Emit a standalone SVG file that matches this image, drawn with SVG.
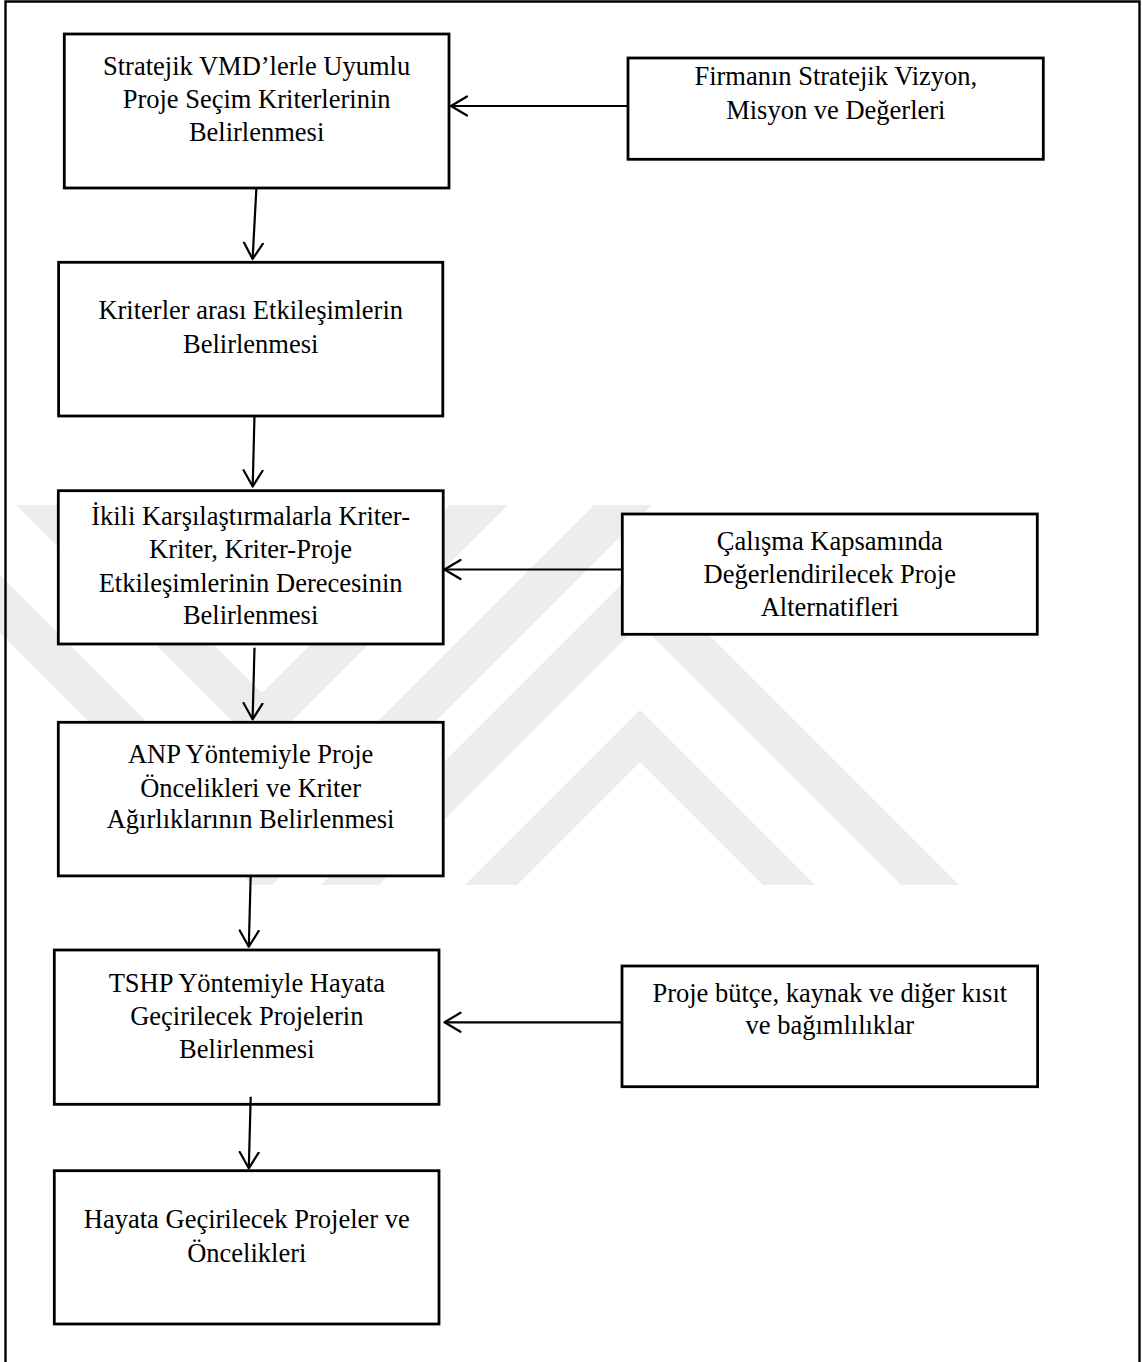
<svg xmlns="http://www.w3.org/2000/svg" width="1142" height="1362" viewBox="0 0 1142 1362">
  <style>
    .box { fill: #ffffff; stroke: #000000; stroke-width: 2.8; }
    .lbl { font-family: "Liberation Serif", "Times New Roman", serif; font-size: 26.5px; fill: #000000; text-anchor: middle; }
    .conn { stroke: #000000; stroke-width: 2.2; fill: none; marker-end: url(#arr); }
    .wm { fill: #ededed; }
    .frame { stroke: #000000; stroke-width: 2.4; fill: none; }
  </style>
  <defs>
    <marker id="arr" markerUnits="userSpaceOnUse" markerWidth="22" markerHeight="24" refX="17" refY="11" orient="auto">
      <path d="M1,1.5 L17,11 L1,20.5" fill="none" stroke="#000000" stroke-width="2.2" stroke-linecap="round" stroke-linejoin="round"/>
    </marker>
    <clipPath id="wmclip">
      <rect x="0" y="505" width="1142" height="380"/>
    </clipPath>
  </defs>
  <rect x="0" y="0" width="1142" height="1362" fill="#ffffff"/>

  <g id="watermark" clip-path="url(#wmclip)">
    <polygon class="wm" points="-89,400 262,751 613,400 555,400 262,693 -31,400"/>
    <polygon class="wm" points="-233,400 262,895 757,400 699,400 262,837 -175,400"/>
    <polygon class="wm" points="306,900 640,566 974,900 916,900 640,624 364,900"/>
    <polygon class="wm" points="450,900 640,710 830,900 778,900 640,762 502,900"/>
  </g>

  <path id="frame" class="frame" d="M5.5,1370 V1.5 H1139.5 V1370"/>

  <g id="node-vmd">
    <rect class="box" x="64.3" y="34" width="384.7" height="154"/>
    <text class="lbl" x="256.6" y="75">Stratejik VMD’lerle Uyumlu</text>
    <text class="lbl" x="256.6" y="108">Proje Seçim Kriterlerinin</text>
    <text class="lbl" x="256.6" y="141">Belirlenmesi</text>
  </g>

  <g id="node-firma">
    <rect class="box" x="628" y="58" width="415.3" height="101.3"/>
    <text class="lbl" x="835.8" y="85">Firmanın Stratejik Vizyon,</text>
    <text class="lbl" x="835.8" y="119.3">Misyon ve Değerleri</text>
  </g>

  <g id="node-etkilesim">
    <rect class="box" x="58.6" y="262.3" width="384.2" height="153.7"/>
    <text class="lbl" x="250.7" y="319.3">Kriterler arası Etkileşimlerin</text>
    <text class="lbl" x="250.7" y="353.3">Belirlenmesi</text>
  </g>

  <g id="node-ikili">
    <rect class="box" x="58.3" y="490.7" width="384.9" height="153.3"/>
    <text class="lbl" x="250.6" y="525">İkili Karşılaştırmalarla Kriter-</text>
    <text class="lbl" x="250.6" y="558.3">Kriter, Kriter-Proje</text>
    <text class="lbl" x="250.6" y="591.7">Etkileşimlerinin Derecesinin</text>
    <text class="lbl" x="250.6" y="624">Belirlenmesi</text>
  </g>

  <g id="node-alternatif">
    <rect class="box" x="622.3" y="514" width="415" height="120.3"/>
    <text class="lbl" x="829.8" y="550">Çalışma Kapsamında</text>
    <text class="lbl" x="829.8" y="582.7">Değerlendirilecek Proje</text>
    <text class="lbl" x="829.8" y="616">Alternatifleri</text>
  </g>

  <g id="node-anp">
    <rect class="box" x="58.3" y="722.3" width="384.9" height="153.6"/>
    <text class="lbl" x="250.6" y="763.3">ANP Yöntemiyle Proje</text>
    <text class="lbl" x="250.6" y="796.7">Öncelikleri ve Kriter</text>
    <text class="lbl" x="250.6" y="828.3">Ağırlıklarının Belirlenmesi</text>
  </g>

  <g id="node-tshp">
    <rect class="box" x="54.3" y="950" width="384.7" height="154.3"/>
    <text class="lbl" x="246.8" y="991.7">TSHP Yöntemiyle Hayata</text>
    <text class="lbl" x="246.8" y="1025">Geçirilecek Projelerin</text>
    <text class="lbl" x="246.8" y="1058.3">Belirlenmesi</text>
  </g>

  <g id="node-kisit">
    <rect class="box" x="622" y="966" width="415.6" height="120.7"/>
    <text class="lbl" x="829.8" y="1001.7">Proje bütçe, kaynak ve diğer kısıt</text>
    <text class="lbl" x="829.8" y="1034.3">ve bağımlılıklar</text>
  </g>

  <g id="node-sonuc">
    <rect class="box" x="54.3" y="1170.7" width="384.7" height="153.3"/>
    <text class="lbl" x="246.8" y="1227.7">Hayata Geçirilecek Projeler ve</text>
    <text class="lbl" x="246.8" y="1261.7">Öncelikleri</text>
  </g>

  <g id="connectors">
    <path class="conn" d="M256.4,188 L252.6,259"/>
    <path class="conn" d="M254.5,415 L252.7,486.5"/>
    <path class="conn" d="M254.5,647.7 L252.6,719.3"/>
    <path class="conn" d="M250.7,875 L248.8,946.7"/>
    <path class="conn" d="M250.7,1096.7 L248.8,1168.3"/>
    <path class="conn" d="M628,106 L451,106"/>
    <path class="conn" d="M622.3,569.5 L444.5,569.5"/>
    <path class="conn" d="M622,1022.3 L444.5,1022.3"/>
  </g>
</svg>
